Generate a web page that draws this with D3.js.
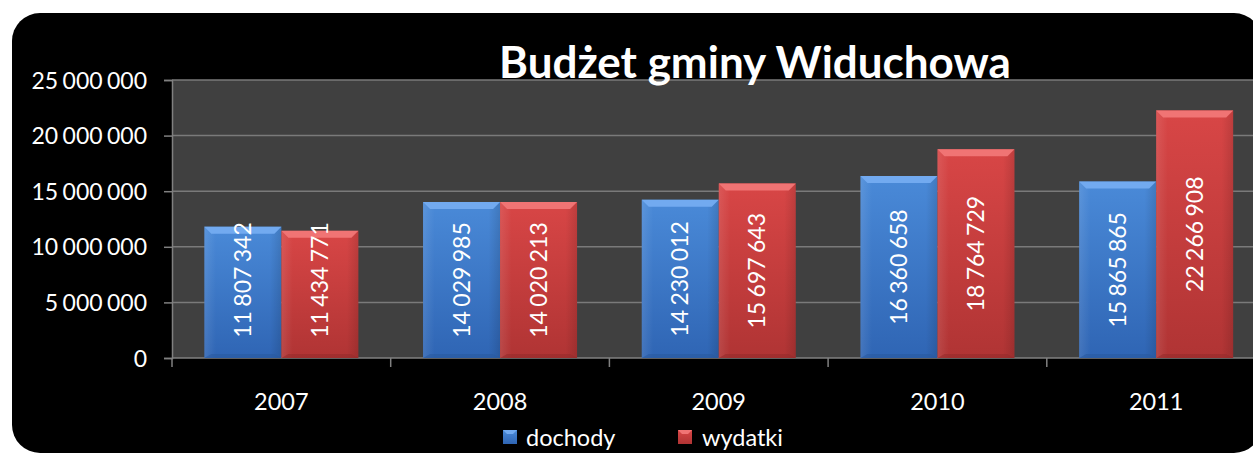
<!DOCTYPE html>
<html><head><meta charset="utf-8">
<script src="https://cdn.jsdelivr.net/npm/d3@7"></script>
<style>html,body{margin:0;padding:0;background:#fff;overflow:hidden}svg{display:block}</style>
</head><body>
<svg id="c" width="1253" height="455"></svg>
<script>
const years = ["2007","2008","2009","2010","2011"];
const seriesNames = ["dochody","wydatki"];
const dochody = [11807342,14029985,14230012,16360658,15865865];
const wydatki = [11434771,14020213,15697643,18764729,22266908];
const yTicks = [0,5000000,10000000,15000000,20000000,25000000];
const title = "Budżet gminy Widuchowa";

const FONT = "Lato, 'Open Sans', sans-serif";
const svg = d3.select("#c");
const fmt = v => d3.format(",")(v).replace(/,/g," ");

const L = 172, R = 1265.5, T = 80, B = 358;
const x0 = d3.scaleBand().domain(years).range([L,R]).padding(0);
const x1 = d3.scaleBand().domain(seriesNames).range([0,x0.bandwidth()]).paddingInner(0).paddingOuter(0.42);
const y = d3.scaleLinear().domain([0,25000000]).range([B,T]);

const colors = {
  dochody:{top:"#4a8ad8", bot:"#2f65b4", bevel:"#72aaf0", side:"#3a74c2", dark:"#2a5aa0"},
  wydatki:{top:"#d84646", bot:"#b03434", bevel:"#f07474", side:"#c43c3c", dark:"#962c2c"}
};
const defs = svg.append("defs");
seriesNames.forEach(s=>{
  const g = defs.append("linearGradient").attr("id","g_"+s).attr("x1",0).attr("y1",0).attr("x2",0).attr("y2",1);
  g.append("stop").attr("offset","0%").attr("stop-color",colors[s].top);
  g.append("stop").attr("offset","100%").attr("stop-color",colors[s].bot);
  const h = defs.append("linearGradient").attr("id","h_"+s).attr("x1",0).attr("y1",0).attr("x2",1).attr("y2",0);
  h.append("stop").attr("offset","0%").attr("stop-color","#fff").attr("stop-opacity",0.10);
  h.append("stop").attr("offset","15%").attr("stop-color","#fff").attr("stop-opacity",0);
  h.append("stop").attr("offset","85%").attr("stop-color","#000").attr("stop-opacity",0);
  h.append("stop").attr("offset","100%").attr("stop-color","#000").attr("stop-opacity",0.12);
});

// background
svg.append("rect").attr("x",12).attr("y",13).attr("width",1250).attr("height",440).attr("rx",28).attr("fill","#000");

// plot area
svg.append("rect").attr("x",L).attr("y",T).attr("width",R-L).attr("height",B-T).attr("fill","#404040");

// gridlines
svg.append("g").selectAll("line").data(yTicks.filter(d=>d>0)).join("line")
  .attr("x1",L).attr("x2",R).attr("y1",d=>y(d)).attr("y2",d=>y(d))
  .attr("stroke","#7a7a7a").attr("stroke-width",1.5);

// y axis
const ya = svg.append("g").attr("transform",`translate(${L},0)`)
  .call(d3.axisLeft(y).tickValues(yTicks).tickFormat(fmt).tickSize(8).tickPadding(17));
ya.select(".domain").attr("stroke","#808080").attr("stroke-width",1.5);
ya.selectAll(".tick line").attr("stroke","#808080").attr("stroke-width",1.5);
ya.selectAll("text").attr("fill","#fff").attr("font-family",FONT).attr("font-size",23).attr("dy","0.35em")
  .attr("word-spacing","-1.5px");

// x axis
const xa = svg.append("g").attr("transform",`translate(0,${B})`)
  .call(d3.axisBottom(x0).tickSize(0).tickPadding(0));
xa.select(".domain").remove();
xa.selectAll("text").attr("fill","#fff").attr("font-family",FONT).attr("font-size",23.5).attr("y",52).attr("dy",0);
svg.append("line").attr("x1",L).attr("x2",R).attr("y1",B).attr("y2",B).attr("stroke","#808080").attr("stroke-width",1.5);
svg.append("g").selectAll("line").data(years.concat(["end"])).join("line")
  .attr("x1",(d,i)=> i<years.length ? x0(d) : R).attr("x2",(d,i)=> i<years.length ? x0(d) : R)
  .attr("y1",B).attr("y2",B+9).attr("stroke","#808080").attr("stroke-width",1.5);

// bars
const rows = [];
years.forEach((yr,i)=>{
  rows.push({year:yr, s:"dochody", v:dochody[i]});
  rows.push({year:yr, s:"wydatki", v:wydatki[i]});
});
const bars = svg.append("g").selectAll("g").data(rows).join("g");
bars.each(function(d){
  const g = d3.select(this);
  const bx = x0(d.year)+x1(d.s), bw = x1.bandwidth(), by = y(d.v), bh = B-by;
  const c = colors[d.s], b = 7;
  g.append("rect").attr("x",bx).attr("y",by).attr("width",bw).attr("height",bh).attr("fill",`url(#g_${d.s})`);
  g.append("rect").attr("x",bx).attr("y",by).attr("width",bw).attr("height",bh).attr("fill",`url(#h_${d.s})`);
  g.append("polygon").attr("points",[[bx,by],[bx+bw,by],[bx+bw-b,by+b],[bx+b,by+b]].map(p=>p.join(",")).join(" "))
    .attr("fill",c.bevel);
  g.append("polygon").attr("points",[[bx,B],[bx+bw,B],[bx+bw-b,B-b+3],[bx+b,B-b+3]].map(p=>p.join(",")).join(" "))
    .attr("fill",c.dark).attr("opacity",0.6);
  const cy = Math.min(by+bh/2, B-78);
  g.append("text").attr("transform",`translate(${bx+bw/2},${cy}) rotate(-90)`)
    .attr("text-anchor","middle").attr("dy","0.35em").attr("word-spacing","-1.5px")
    .attr("fill","#fff").attr("font-family",FONT).attr("font-size",23)
    .text(fmt(d.v));
});

// legend
const leg = [{s:"dochody", x:503, tx:526},{s:"wydatki", x:678, tx:702}];
leg.forEach(l=>{
  svg.append("rect").attr("x",l.x).attr("y",430).attr("width",14).attr("height",14).attr("fill",`url(#g_${l.s})`);
  svg.append("polygon").attr("points",`${l.x},430 ${l.x+14},430 ${l.x+10},434 ${l.x+4},434`).attr("fill",colors[l.s].bevel);
  svg.append("text").attr("x",l.tx).attr("y",446).attr("fill","#fff").attr("font-family",FONT).attr("font-size",23.5).text(l.s);
});

// title
svg.append("text").attr("x",755).attr("y",78).attr("text-anchor","middle")
  .attr("fill","#fff").attr("font-family",FONT).attr("font-weight","bold").attr("font-size",44).text(title);
</script>
</body></html>
